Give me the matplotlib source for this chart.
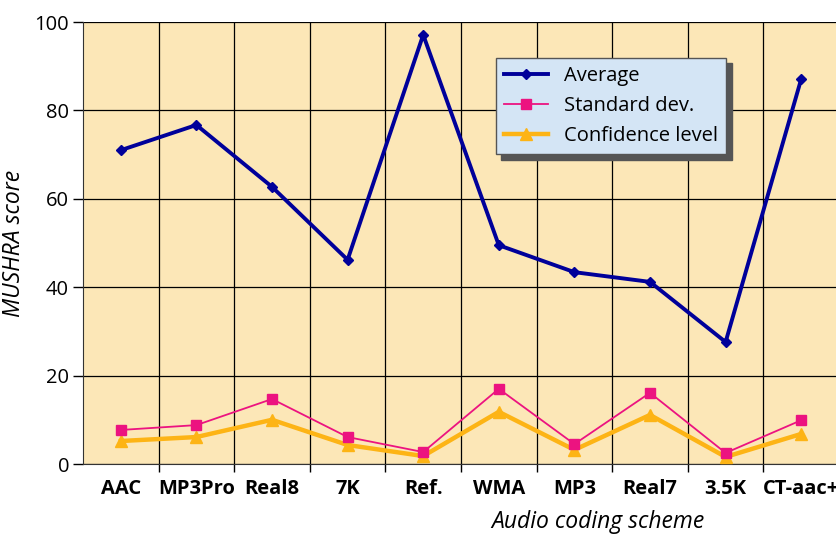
import numpy as np
import matplotlib
matplotlib.use('Agg')
import matplotlib.pyplot as plt

plt.rcParams['font.family'] = ['Open Sans', 'DejaVu Sans']

schemes = ['AAC', 'MP3Pro', 'Real8', '7K', 'Ref.', 'WMA', 'MP3', 'Real7', '3.5K', 'CT-aac+']
average = [71.0, 76.7, 62.7, 46.2, 97.1, 49.5, 43.4, 41.2, 27.6, 87.1]
std_dev = [7.7, 8.8, 14.7, 6.1, 2.7, 17.0, 4.5, 16.1, 2.5, 9.9]
confidence = [5.2, 6.1, 10.0, 4.3, 1.8, 11.8, 3.2, 11.1, 1.6, 6.8]
y_ticks = [0, 20, 40, 60, 80, 100]

x = np.arange(len(schemes))

fig = plt.figure(figsize=(8.36, 5.36), dpi=100)
# axes runs a little past the right edge, like the original
ax = fig.add_axes([83/836, 1-464/536, 756/836, 442/536])
ax.set_facecolor('#FCE7B7')

ax.plot(x, average, color='#00009A', lw=2.8, marker='D', ms=5, label='Average', zorder=5)
ax.plot(x, std_dev, color='#EC1380', lw=1.3, marker='s', ms=6.5, label='Standard dev.', zorder=4)
ax.plot(x, confidence, color='#FDB415', lw=3.2, marker='^', ms=8, label='Confidence level', zorder=3)

ax.set_xlim(-0.5, len(schemes) - 0.5)
ax.set_ylim(0, 100)
ax.set_yticks(y_ticks)
ax.set_xticks(x)
ax.set_xticklabels(schemes, fontweight='bold', fontsize=14.5)
ax.set_xticks(np.arange(len(schemes)) + 0.5, minor=True)
ax.tick_params(axis='x', which='major', length=0, pad=11)
ax.tick_params(axis='x', which='minor', length=6, width=1, color='black')
ax.tick_params(axis='y', length=7, width=1, labelsize=14.5, pad=3)

ax.grid(True, which='minor', axis='x', color='black', lw=0.9)
ax.grid(True, which='major', axis='y', color='black', lw=0.9)
ax.set_axisbelow(True)
for s in ['top', 'right']:
    ax.spines[s].set_visible(False)
ax.spines['left'].set_color('#333333')
ax.spines['bottom'].set_color('#333333')

ax.set_ylabel('MUSHRA score', fontstyle='italic', fontsize=16.5, labelpad=6)
fig.text(598/836, 1-522/536, 'Audio coding scheme', fontstyle='italic', fontsize=16.5,
         ha='center', va='center')

leg = ax.legend(loc='upper left', bbox_to_anchor=(0.546, 0.919), borderaxespad=0,
                fontsize=14.5, frameon=True, fancybox=False, handlelength=2.2,
                labelspacing=0.5, borderpad=0.4, handletextpad=0.8,
                shadow={'ox': 4, 'oy': -4, 'facecolor': '#555555',
                        'edgecolor': '#555555', 'alpha': 1})
leg.get_frame().set_facecolor('#D4E5F5')
leg.get_frame().set_edgecolor('#555555')
leg.get_frame().set_alpha(1)
leg.get_frame().set_linewidth(1)

fig.savefig('out.png', dpi=100)
